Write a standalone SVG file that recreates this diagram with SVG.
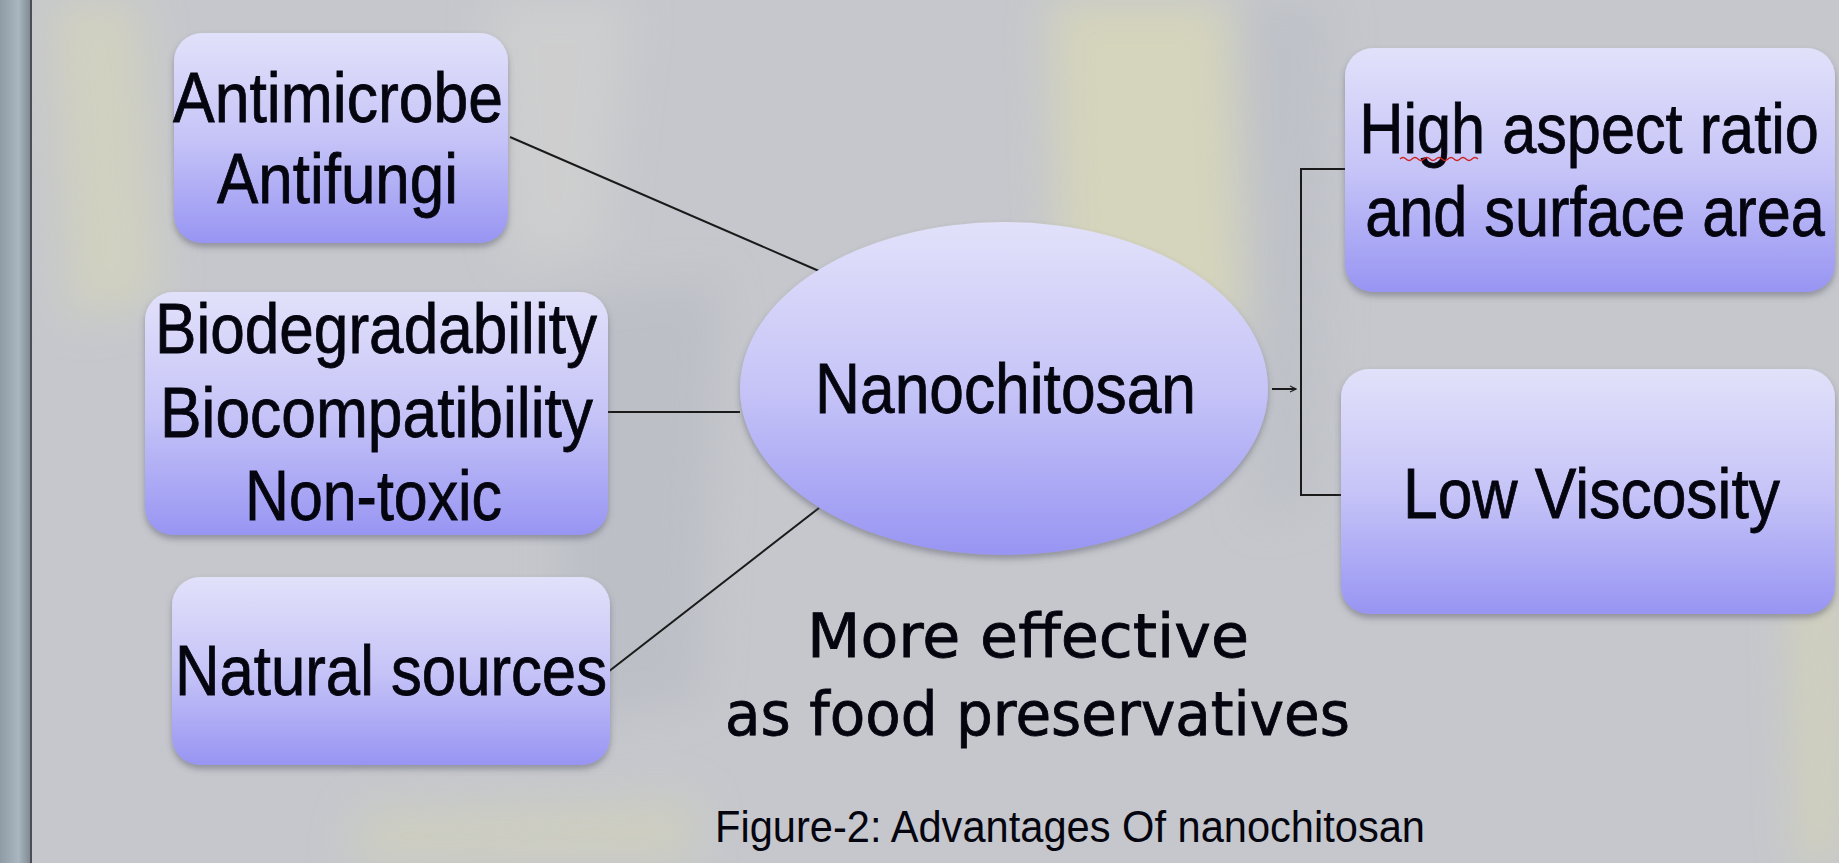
<svg xmlns="http://www.w3.org/2000/svg" width="1839" height="863" viewBox="0 0 1839 863">
  <defs>
    <linearGradient id="nodeFill" x1="0" y1="0" x2="0" y2="1">
      <stop offset="0" stop-color="#e2e1fa"/>
      <stop offset="0.5" stop-color="#c6c4f7"/>
      <stop offset="1" stop-color="#9895f3"/>
    </linearGradient>
    <linearGradient id="stripFill" x1="0" y1="0" x2="1" y2="0">
      <stop offset="0" stop-color="#8f9ca6"/>
      <stop offset="0.6" stop-color="#a9b6bf"/>
      <stop offset="1" stop-color="#7d8790"/>
    </linearGradient>
    <filter id="shadow" x="-10%" y="-10%" width="120%" height="125%">
      <feDropShadow dx="0" dy="4" stdDeviation="3" flood-color="#505060" flood-opacity="0.45"/>
    </filter>
    <filter id="soft" x="-50%" y="-50%" width="200%" height="200%">
      <feGaussianBlur stdDeviation="22"/>
    </filter>
    <marker id="arrow" markerWidth="8" markerHeight="8" refX="7" refY="4" orient="auto" markerUnits="userSpaceOnUse">
      <path d="M1,1 L7,4 L1,7" fill="none" stroke="#222" stroke-width="1.2"/>
    </marker>
    <style>
      .node { fill: url(#nodeFill); filter: url(#shadow); }
      .lbl { font-family: "Liberation Sans", Arial, sans-serif; font-size: 71px; fill: #05050f; stroke: #05050f; stroke-width: 0.8; text-anchor: middle; }
      .note { font-family: "Comic Sans MS", "DejaVu Sans", sans-serif; font-size: 60px; fill: #05050f; stroke: #05050f; stroke-width: 0.8; text-anchor: middle; }
      .cap { font-family: "Liberation Sans", Arial, sans-serif; font-size: 44px; fill: #05050f; text-anchor: middle; }
      .conn { stroke: #1a1a1a; stroke-width: 2; fill: none; }
    </style>
  </defs>

  <g id="background">
    <rect x="0" y="0" width="1839" height="863" fill="#c5c7cc"/>
    <g filter="url(#soft)" opacity="0.7">
      <path d="M1050,0 L1230,0 L1245,330 L1060,300 Z" fill="#dcdab6"/>
      <path d="M50,0 L140,0 L160,300 L70,320 Z" fill="#d6d5bc"/>
      <path d="M490,0 L630,0 L600,250 L510,260 Z" fill="#d2d2d0"/>
      <path d="M1790,470 L1839,450 L1839,863 L1800,863 Z" fill="#d8d6b2"/>
      <path d="M360,810 L700,800 L690,863 L350,863 Z" fill="#d2d1bb"/>
      <path d="M560,300 L720,280 L700,700 L560,720 Z" fill="#b9bcc4"/>
      <path d="M1240,0 L1330,0 L1320,500 L1255,520 Z" fill="#bcbfc6"/>
    </g>
    <rect x="0" y="0" width="31" height="863" fill="url(#stripFill)"/>
    <rect x="30" y="0" width="2" height="863" fill="#4a4e54"/>
  </g>

  <g id="connectors">
    <line class="conn" x1="510" y1="137" x2="819" y2="271"/>
    <line class="conn" x1="592" y1="412" x2="740" y2="412"/>
    <line class="conn" x1="608" y1="672" x2="819" y2="508"/>
    <line class="conn" x1="1272" y1="389" x2="1296" y2="389" stroke-width="1.5" marker-end="url(#arrow)"/>
    <path class="conn" d="M1345,169 H1301 V495 H1345"/>
  </g>

  <g id="node-antimicrobe">
    <rect class="node" x="174" y="33" width="334" height="210" rx="28"/>
    <text class="lbl" x="338" y="122" textLength="330" lengthAdjust="spacingAndGlyphs">Antimicrobe</text>
    <text class="lbl" x="337.5" y="203" textLength="241" lengthAdjust="spacingAndGlyphs">Antifungi</text>
  </g>

  <g id="node-bio">
    <rect class="node" x="145" y="292" width="463" height="243" rx="28"/>
    <text class="lbl" x="376" y="353" textLength="442" lengthAdjust="spacingAndGlyphs">Biodegradability</text>
    <text class="lbl" x="376.5" y="437" textLength="433" lengthAdjust="spacingAndGlyphs">Biocompatibility</text>
    <text class="lbl" x="373.5" y="520" textLength="257" lengthAdjust="spacingAndGlyphs">Non-toxic</text>
  </g>

  <g id="node-natural">
    <rect class="node" x="172" y="577" width="438" height="188" rx="28"/>
    <text class="lbl" x="391" y="695" textLength="432" lengthAdjust="spacingAndGlyphs">Natural sources</text>
  </g>

  <g id="node-nanochitosan">
    <ellipse class="node" cx="1004" cy="388.5" rx="264" ry="166.5"/>
    <text class="lbl" x="1005.5" y="413" textLength="381" lengthAdjust="spacingAndGlyphs">Nanochitosan</text>
  </g>

  <g id="node-aspect">
    <rect class="node" x="1345" y="48" width="490" height="244" rx="28"/>
    <text class="lbl" transform="translate(1589,153) scale(0.863,1)" x="0" y="0">High aspect ratio</text>
    <path d="M1400,159 q3,-3 6,0 t6,0 t6,0 t6,0 t6,0 t6,0 t6,0 t6,0 t6,0 t6,0 t6,0 t6,0 t6,0" fill="none" stroke="#d02020" stroke-width="1.3"/>
    <text class="lbl" transform="translate(1595,236) scale(0.863,1)" x="0" y="0">and surface area</text>
  </g>

  <g id="node-viscosity">
    <rect class="node" x="1341" y="369" width="494" height="245" rx="28"/>
    <text class="lbl" x="1591.5" y="518" textLength="377" lengthAdjust="spacingAndGlyphs">Low Viscosity</text>
  </g>

  <g id="note">
    <text class="note" x="1028" y="657" textLength="442" lengthAdjust="spacingAndGlyphs">More effective</text>
    <text class="note" x="1037.5" y="735" textLength="625" lengthAdjust="spacingAndGlyphs">as food preservatives</text>
  </g>

  <g id="caption">
    <text class="cap" x="1070" y="842" textLength="710" lengthAdjust="spacingAndGlyphs">Figure-2: Advantages  Of nanochitosan</text>
  </g>
</svg>
